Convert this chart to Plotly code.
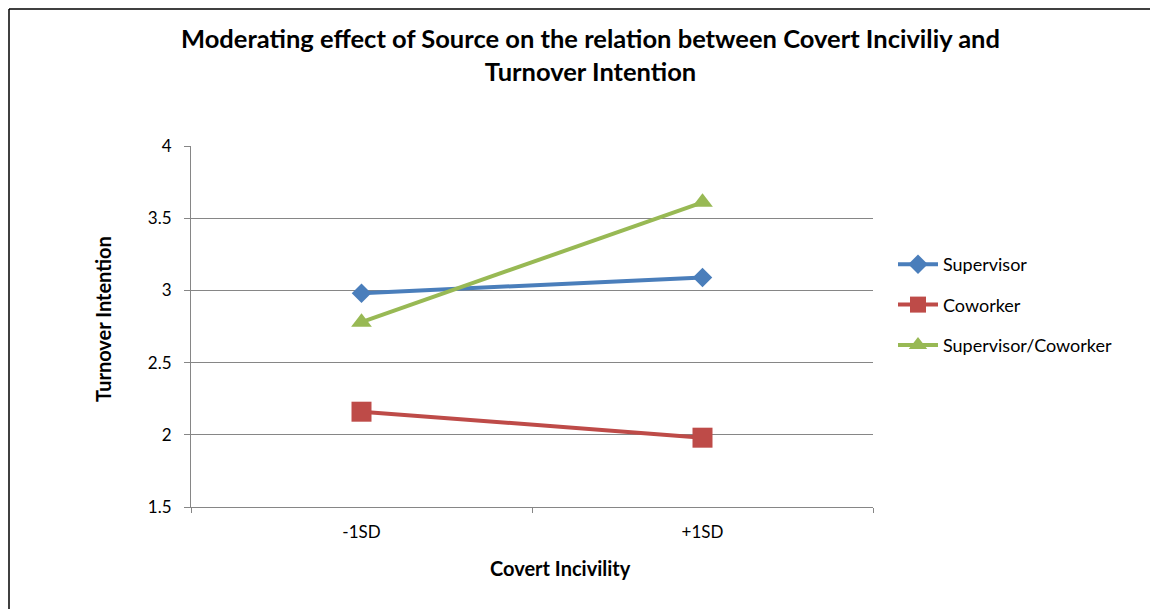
import plotly.graph_objects as go

categories = ["-1SD", "+1SD"]
supervisor = [2.98, 3.09]
coworker = [2.16, 1.98]
sup_cow = [2.78, 3.61]
y_ticks = [1.5, 2, 2.5, 3, 3.5, 4]
y_tick_text = ["1.5", "2", "2.5", "3", "3.5", "4"]

FONT = "Lato"
OFF = 8  # page body margin
W, H = 1158 - OFF, 609 - OFF
# plot area in window pixels
L, R, T, B = 191, 873, 146, 507

fig = go.Figure()
series = [
    ("Supervisor", supervisor, "#4A7EBB", "diamond", 15),
    ("Coworker", coworker, "#BE4B48", "square", 20),
    ("Supervisor/Coworker", sup_cow, "#98B954", "triangle-up", 18),
]
for i, (name, vals, col, sym, sz) in enumerate(series):
    fig.add_trace(go.Scatter(
        x=categories, y=vals, name=name, mode="lines+markers",
        line=dict(color=col, width=4),
        marker=dict(symbol=sym, size=sz, color=col),
        legendgroup=f"g{i}",
    ))


def px(x):
    return (x - L) / (R - L)


def py(y):
    return (B - y) / (B - T)


fig.update_layout(
    width=W, height=H,
    margin=dict(l=L - OFF, r=W - (R - OFF), t=T - OFF, b=H - (B - OFF)),
    paper_bgcolor="white", plot_bgcolor="white",
    font=dict(family=FONT, size=17, color="black"),
    showlegend=True,
    legend=dict(
        x=px(893), xanchor="left", y=py(246), yanchor="top",
        font=dict(family=FONT, size=18, color="black"),
        tracegroupgap=14, itemwidth=40,
    ),
    xaxis=dict(
        type="category", range=[-0.5, 1.5],
        tickson="boundaries", ticks="outside", ticklen=5, tickcolor="#868686",
        showline=True, linecolor="#868686", linewidth=1,
        showgrid=False, zeroline=False, ticklabelstandoff=10,
        tickfont=dict(family=FONT, size=17, color="black"),
    ),
    yaxis=dict(
        range=[1.5, 4], tickvals=y_ticks, ticktext=y_tick_text,
        ticks="outside", ticklen=6, tickcolor="#868686",
        showline=True, linecolor="#868686", linewidth=1,
        showgrid=True, gridcolor="#868686", gridwidth=1,
        zeroline=False, ticklabelstandoff=9,
        tickfont=dict(family=FONT, size=17, color="black"),
    ),
    annotations=[
        dict(text="<b>Moderating effect of Source on the relation between Covert Inciviliy and<br>Turnover Intention</b>",
             xref="paper", yref="paper", x=px(590), y=py(55),
             xanchor="center", yanchor="middle", align="center",
             showarrow=False, font=dict(family=FONT, size=25.5, color="black")),
        dict(text="<b>Covert Incivility</b>", xref="paper", yref="paper",
             x=px(560), y=py(568), xanchor="center", yanchor="middle",
             showarrow=False, font=dict(family=FONT, size=20, color="black")),
        dict(text="<b>Turnover Intention</b>", xref="paper", yref="paper",
             x=px(103), y=py(319), xanchor="center", yanchor="middle",
             showarrow=False, textangle=-90,
             font=dict(family=FONT, size=20, color="black")),
    ],
    shapes=[
        dict(type="line", xref="paper", yref="paper", x0=px(9), x1=px(9),
             y0=py(9), y1=py(620), line=dict(color="black", width=1.5)),
        dict(type="line", xref="paper", yref="paper", x0=px(9), x1=px(1157),
             y0=py(9), y1=py(9), line=dict(color="black", width=1.5)),
        dict(type="line", xref="paper", yref="paper", x0=px(1157), x1=px(1157),
             y0=py(9), y1=py(620), line=dict(color="#8c8c8c", width=1.5)),
    ],
)

fig.write_html("out.html")
